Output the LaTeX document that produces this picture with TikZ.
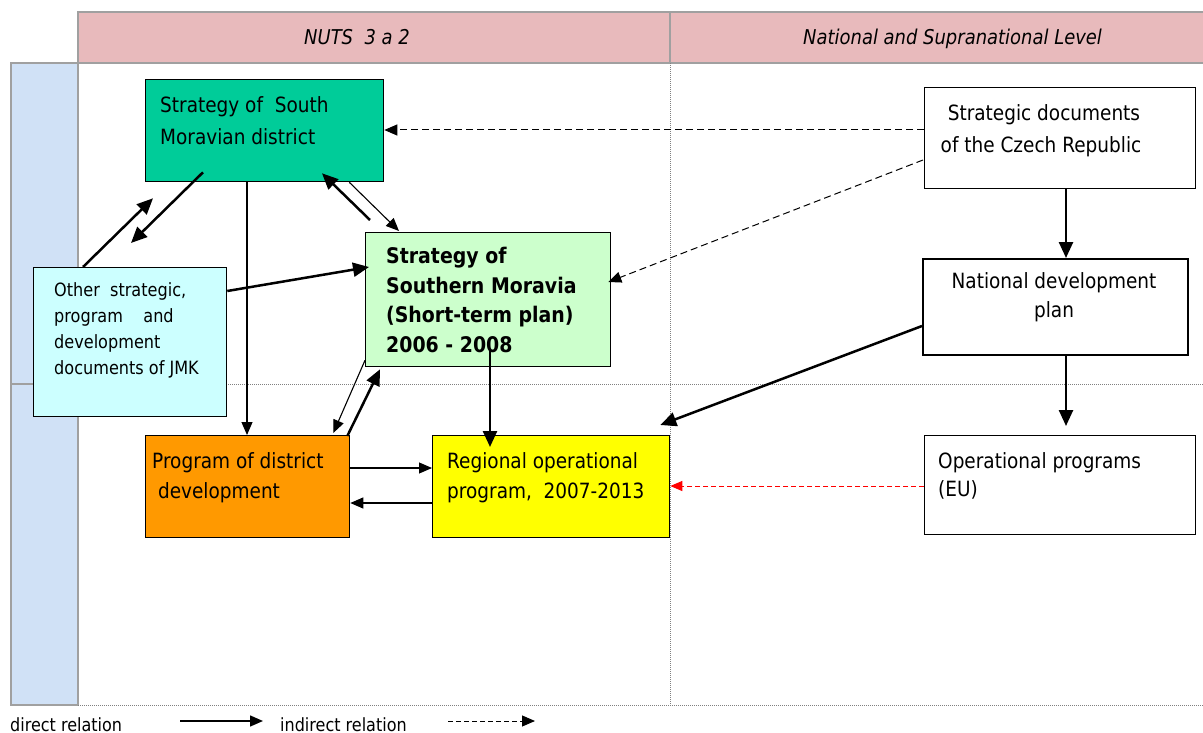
\documentclass[tikz,border=0pt]{standalone}
\usepackage{fontspec}
\setmainfont{DejaVu Sans}[FakeStretch=0.88]
\usetikzlibrary{arrows.meta,calc}
\definecolor{hdrpink}{RGB}{232,186,188}
\definecolor{bandblue}{RGB}{208,225,246}
\definecolor{gridgray}{RGB}{160,160,160}
\definecolor{teal}{RGB}{0,204,153}
\definecolor{lcyan}{RGB}{204,255,255}
\definecolor{lgreen}{RGB}{204,255,204}
\definecolor{orng}{RGB}{255,153,0}
\definecolor{yell}{RGB}{255,255,0}
\begin{document}
\begin{tikzpicture}[x=1pt,y=-1pt,
  box/.style={draw=black,line width=1.3pt,anchor=north west,inner sep=0pt},
  txt/.style={anchor=north west,inner sep=0pt,align=left,font=\fontsize{21}{30}\selectfont},
  ctxt/.style={anchor=north,inner sep=0pt,align=center,font=\fontsize{21}{30}\selectfont},
  hdr/.style={anchor=north west,inner sep=0pt,font=\fontsize{20.4}{24}\selectfont\itshape},
  dotline/.style={draw=gray,line width=0.8pt,dash pattern=on 1pt off 1pt},
  thick arrow/.style={line width=2.5pt,-{Triangle[length=16pt,width=14pt]}},
  thin arrow/.style={line width=1.1pt,-{Triangle[length=13pt,width=11pt]}},
  dash arrow/.style={line width=1pt,dash pattern=on 7pt off 4pt,-{Triangle[length=13pt,width=11pt]}},
  red arrow/.style={draw=red,line width=1pt,dash pattern=on 5pt off 3pt,-{Triangle[length=12pt,width=10pt]},red}]
\useasboundingbox (0,0) rectangle (1203,733);
% backgrounds
\fill[hdrpink] (78,12) rectangle (1203,63);
\draw[gridgray,line width=1.5pt] (1203,12) -- (78,12) -- (78,63) -- (1203,63);
\draw[gridgray,line width=1.5pt] (670,12) -- (670,63);
\fill[bandblue] (11,63) rectangle (78,705);
\draw[gridgray,line width=1.5pt] (11,63) rectangle (78,705);
\draw[gridgray,line width=1.5pt] (11,384) -- (78,384);
\draw[dotline] (670,63) -- (670,705);
\draw[dotline] (78,384) -- (1203,384);
\draw[dotline] (78,705) -- (1203,705);
\node[hdr] (h1) at (304,29) {NUTS\ \ 3 a 2};
\node[hdr] (h2) at (803,29) {National and Supranational Level};
% boxes
\node[box,fill=teal,minimum width=238pt,minimum height=102pt] (sms) at (145,79) {};
\node[box,fill=lcyan,minimum width=193pt,minimum height=149pt] (oth) at (33,267) {};
\node[box,fill=lgreen,minimum width=245pt,minimum height=134pt] (ssm) at (365,232) {};
\node[box,fill=orng,minimum width=204pt,minimum height=102pt] (pdd) at (145,435) {};
\node[box,fill=yell,minimum width=237pt,minimum height=102pt] (rop) at (432,435) {};
\node[box,fill=white,minimum width=271pt,minimum height=101pt] (sdc) at (924,87) {};
\node[box,fill=white,line width=2pt,minimum width=265pt,minimum height=96pt] (ndp) at (922,258) {};
\node[box,fill=white,minimum width=271pt,minimum height=99pt] (op) at (924,435) {};
% texts
\node[txt,font=\fontsize{21}{32}\selectfont] (t1) at (160,96) {Strategy of\ \ South\\Moravian district};
\node[txt,font=\fontsize{18.3}{26}\selectfont] (t2) at (54,282) {Other\ \ strategic,\\program\ \ \ \ and\\development\\documents of JMK};
\node[txt,font=\fontsize{21.5}{29.7}\selectfont\bfseries] (t3) at (386,247) {Strategy of\\Southern Moravia\\(Short-term plan)\\2006 - 2008};
\node[txt] (t4) at (152,452) {Program of district\\\ development};
\node[txt] (t5) at (447,452) {Regional operational\\program,\ \ 2007-2013};
\node[ctxt,font=\fontsize{21}{32}\selectfont] (t6) at (1041,104) {\ Strategic documents\\of the Czech Republic};
\node[ctxt,font=\fontsize{21}{29.3}\selectfont] (t7) at (1054,272) {National development\\plan};
\node[txt,font=\fontsize{21}{28.5}\selectfont] (t8) at (938,452) {Operational programs\\(EU)};
% connectors
\draw[dash arrow] ($(sdc.north west)+(0,43)$) -- ($(sms.north east)+(0,51)$);
\draw[dash arrow] ($(sdc.north west)+(-1,73)$) -- ($(ssm.north east)+(-3,50)$);
\draw[thick arrow] ($(sdc.south west)+(142,0)$) -- ($(ndp.north west)+(144,0)$);
\draw[thick arrow] ($(ndp.south west)+(144,0)$) -- ($(op.north west)+(142,-9)$);
\draw[thick arrow] ($(ndp.north west)+(0,68)$) -- ($(rop.north east)+(-10,-10)$);
\draw[red arrow] ($(op.north west)+(0,51)$) -- ($(rop.north east)+(0,51)$);
\draw[thin arrow] ($(sms.south west)+(102,0)$) -- ($(pdd.north west)+(102,0)$);
\draw[thick arrow] ($(sms.south west)+(58,-10)$) -- ($(oth.north west)+(98,-24)$);
\draw[thick arrow] ($(oth.north west)+(50,0)$) -- ($(sms.south west)+(8,16)$);
\draw[thick arrow] ($(ssm.north west)+(5,-12)$) -- ($(sms.south west)+(177,-9)$);
\draw[thin arrow] ($(sms.south east)+(-35,0)$) -- ($(ssm.north west)+(34,-1)$);
\draw[thick arrow] ($(oth.north east)+(0,24)$) -- ($(ssm.north west)+(4,35)$);
\draw[thick arrow] ($(ssm.south west)+(125,-16)$) -- ($(rop.north west)+(58,12)$);
\draw[thin arrow] ($(ssm.south west)+(0,-7)$) -- ($(pdd.north east)+(-17,-2)$);
\draw[thick arrow] ($(pdd.north east)+(-3,1)$) -- ($(ssm.south west)+(15,2)$);
\draw[thin arrow] ($(pdd.north east)+(0,33)$) -- ($(rop.north west)+(0,33)$);
\draw[thin arrow] ($(rop.north west)+(0,68)$) -- ($(pdd.north east)+(0,68)$);
% legend
\node[anchor=base west,inner sep=0pt,font=\fontsize{18.2}{22}\selectfont] (l1) at (10,731) {direct relation};
\node[anchor=base west,inner sep=0pt,font=\fontsize{18.2}{22}\selectfont] (l2) at (280,731) {indirect relation};
\coordinate (la) at (180,721);
\coordinate (lb) at (263,721);
\coordinate (lc) at (448,721);
\coordinate (ld) at (535,721);
\draw[line width=1.5pt,-{Triangle[length=13pt,width=11pt]}] (la) -- (lb);
\draw[line width=1pt,dash pattern=on 5pt off 3pt,-{Triangle[length=13pt,width=11pt]}] (lc) -- (ld);
\end{tikzpicture}
\end{document}
